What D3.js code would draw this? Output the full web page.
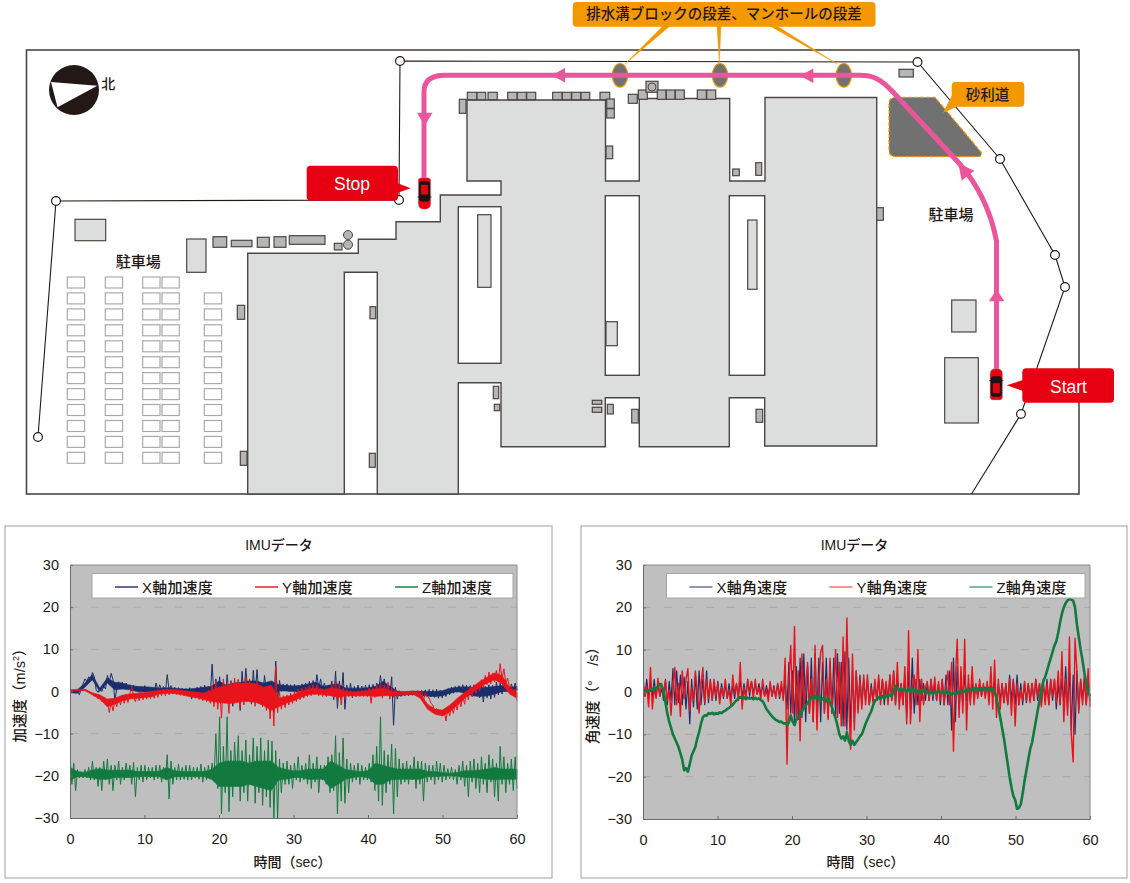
<!DOCTYPE html>
<html><head><meta charset="utf-8">
<script src="https://cdnjs.cloudflare.com/ajax/libs/d3/7.8.5/d3.min.js"></script>
<style>html,body{margin:0;padding:0;background:#fff}svg{display:block}</style>
</head><body><svg id="c" width="1130" height="883"></svg>
<script>
// ---- chart data: spike readings every quarter second, 0..60 s ----
const xTicks=[0,10,20,30,40,50,60];
const yTicks=[-30,-20,-10,0,10,20,30];
const accelX=[
0.2,-0.2,0.3,-0.4,0.4,-0.8,0.6,1.8,3.0,2.4,3.5,2.9,4.5,3.5,0.4,-0.2,0.6,0.0,1.2,0.6,
3.8,2.2,4.3,2.8,-2.0,0.5,2.3,0.8,2.2,0.7,2.0,0.6,1.6,0.2,1.5,0.1,1.3,-0.2,1.2,0.0,
1.4,0.0,1.1,-0.2,0.9,-0.1,2.0,0.2,1.6,0.0,1.2,-0.1,4.0,0.2,1.4,-0.1,1.0,-0.3,0.9,-0.2,
0.8,-0.5,0.7,-0.6,0.9,-1.8,0.6,-0.6,1.0,-0.7,1.2,-0.5,1.5,-0.4,1.3,-0.8,6.5,-1.5,3.0,-2.5,
3.5,-1.5,0.5,-2.5,4.0,-0.5,2.5,-3.5,1.2,-2.0,2.8,-4.5,4.8,-1.0,5.5,0.2,1.5,-3.0,5.0,-0.5,
5.2,-1.0,2.0,-1.8,3.8,0.0,1.0,-4.0,2.5,-5.0,7.2,-2.5,2.6,0.0,1.8,0.2,1.8,0.0,1.6,0.1,
1.7,-0.2,1.5,0.0,1.8,0.0,2.0,0.1,2.4,0.0,2.6,0.2,4.0,0.6,3.0,0.4,2.0,0.0,1.5,-0.5,
2.5,-2.0,4.8,-4.0,2.5,-1.5,4.5,-4.2,1.5,-0.8,2.0,-1.5,1.2,-0.5,1.5,-0.6,1.3,-0.4,1.5,-0.5,
1.6,-0.5,1.7,-0.2,2.0,0.0,3.8,0.4,3.0,0.6,1.5,-1.0,3.5,-8.0,1.0,-1.8,0.2,-1.2,0.0,-1.0,
-0.1,-1.0,0.1,-0.9,0.0,-1.0,-0.1,-0.8,0.3,-1.1,0.4,-1.2,0.5,-1.3,0.4,-1.4,0.5,-1.6,0.3,-1.5,
0.2,-1.2,0.6,-0.8,1.0,-0.4,1.2,-0.2,1.4,0.0,1.6,-0.1,1.5,-1.0,1.4,-1.2,1.6,-0.8,1.2,-1.5,
1.4,-2.5,1.2,-1.5,1.6,-1.8,1.5,-1.4,2.2,-0.8,2.0,-0.6,1.6,0.2,1.4,0.0,1.8,0.2,2.0,0.4];
const accelY=[
0.3,0.1,0.4,0.1,0.4,0.2,0.5,0.2,0.5,0.3,0.0,-0.3,-0.5,-1.2,-0.6,-1.8,-1.2,-2.4,-1.5,-3.0,
-1.8,-5.0,-2.5,-4.6,-1.8,-3.6,-1.5,-3.2,-1.0,-2.8,-0.6,-2.6,-0.5,1.2,-1.5,-2.4,-0.4,-2.2,-0.2,-2.0,
-0.3,-1.8,0.0,-1.7,-0.2,-1.6,0.1,-1.4,0.3,-1.0,0.4,-1.0,0.5,-0.8,0.6,-0.6,0.5,-0.7,0.4,-0.9,
0.3,-1.0,0.2,-1.1,0.0,-1.5,0.0,-1.6,-0.2,-1.9,-0.3,-2.2,-0.2,-2.4,0.3,-2.8,1.6,-3.6,2.5,-4.2,
1.2,-6.3,3.0,-1.5,0.5,-5.2,2.6,-2.0,3.2,-1.2,2.8,-3.8,1.0,-3.2,3.4,-1.0,3.0,-2.6,1.0,-3.5,
2.4,-1.0,1.5,-3.6,1.0,-4.5,0.2,-6.5,1.0,-8.2,6.0,-5.0,0.0,-4.2,-1.0,-3.8,-0.8,-3.2,-0.4,-2.8,
0.0,-2.4,0.6,-2.0,0.8,-1.6,1.0,-1.2,1.4,-1.0,1.6,-0.8,1.6,-1.0,0.8,-1.2,0.4,-1.2,0.6,-1.0,
1.6,-1.2,2.4,-2.0,1.8,-3.2,0.8,-1.8,0.4,-1.2,0.2,-1.2,0.1,-1.3,0.1,-1.2,0.3,-1.2,0.4,-1.2,
0.8,-2.8,0.9,-1.4,1.4,-1.0,2.0,-1.6,1.5,-0.8,2.2,-1.8,0.8,-1.4,0.4,-1.2,0.0,-0.9,-0.1,-0.9,
0.0,-0.8,0.1,-0.7,0.1,-0.6,0.3,-0.7,0.2,-2.2,-0.3,-1.2,-1.5,-2.8,-3.2,-4.6,-4.0,-5.4,-4.4,-5.8,
-4.2,-7.0,-4.2,-5.8,-3.4,-5.2,-2.8,-4.4,-1.8,-3.6,-1.2,-3.0,0.0,-2.0,1.0,-1.2,1.0,-0.4,2.0,0.2,
2.8,0.8,3.8,1.6,4.6,1.8,4.4,2.2,5.0,2.4,6.6,3.0,5.4,2.0,3.2,0.8,1.4,-0.6,0.6,-2.2];
const accelZ=[
-15.5,-22,-17,-23.5,-18.5,-20.5,-19,-20.5,-18.5,-20.5,-18,-21,-16.5,-21,-18,-22.5,-18,-23.5,-16.5,-21,
-16,-22,-17.5,-23.5,-17.5,-21,-16.5,-22,-18,-21,-17,-20.5,-17.5,-22,-16.8,-25,-18,-21,-17.5,-21.5,
-17.5,-21,-18,-20.5,-18,-21,-17.5,-20.7,-17.5,-21.5,-18,-20.8,-15,-25.5,-16.5,-22,-18,-21,-17.2,-21,
-18,-20.8,-17.5,-21,-17.5,-21,-18,-20.5,-18,-20.8,-17.2,-21.5,-18,-21,-17.5,-20.8,-17,-21,-10,-23,
-6,-29,-13,-24,-6,-28.5,-14,-25,-12,-21,-10.5,-26,-14,-24,-11.5,-26,-15,-22,-11,-26.5,
-13,-24,-11,-27,-14,-25,-11.5,-27.5,-11.8,-30,-14,-30,-16,-24,-17,-22,-16.5,-22,-17.5,-23,
-17,-21,-15.5,-21.5,-17.5,-21,-17,-22,-15,-23,-17,-21.5,-15.5,-24,-17.5,-21,-17.5,-22,-15.5,-24,
-15,-23.5,-10.5,-29,-14.5,-26,-11,-26.5,-16,-24,-17,-21.5,-17.5,-21,-17,-22,-17.5,-21,-18,-21,
-17,-21.5,-15,-23.5,-13,-26,-6,-27,-14,-24,-15,-22,-12.5,-29,-13.5,-25,-16,-22,-17,-21.5,
-16.5,-22,-17.5,-21,-15.5,-23,-16.5,-22,-16.5,-26,-17,-21.5,-17.5,-21,-17.5,-22,-16.5,-21,-17,-21.5,
-17.5,-21,-18.3,-20.7,-18,-21,-18.5,-22,-17.5,-21,-16.5,-22.5,-17.5,-25,-16.5,-21.5,-16,-23,-17,-24,
-15.5,-22,-17,-24,-15,-21.5,-16,-25,-17,-26,-13,-22,-15.5,-24,-17,-22,-16,-23.5,-15.5,-23];
const gyroX=[
2,-1,3,-1.5,2.5,-1,3,-1,2,-1,1,-2,3,-3,2.5,-2,5.5,-3,5,-2.5,
4,-3,3.5,-4,2.5,-7.5,3,-3.5,4,-4,5,-3,3,-3,5,-2.5,3,-2,2,-2,
2.5,-2,2,-1.5,2,-1.5,2,-1.5,1.5,-1.5,2,-1,2.5,-1,2,-1,3,-1,2.5,-0.5,
2,-0.5,2,-0.5,1.5,-1,1.5,-1,2,-1,1.5,-1,2,-1.5,1.5,-1.5,3,-4,7,-5,
5,-7,6,-6.5,8,-6,9,-7,6,-5,8,-7,9,-6,8,-7,7,-5,8,-6,
7,-5,8,-6,9,-5,7,-8,9.5,-9,8,-8,5,-7,5,-4,4,-3,3,-2,
3,-3,2,-2,2,-2,3,-2,3,-3,2,-2,4,-2,5,-3,3,-2,2,-3,
4,-6,5,-4,8,-5,3,-3,3,-2,2,-2,2,-2,3,-2,2,-2,2,-3,
3,-3,4,-3,5,-9,8,-7,6,-4,3,-3,4,-2,2,-2,2,-1,1.5,-1,
2,-1,1.5,-1,2,-1,1.5,-1,2.5,-3,2,-2,2,-2.5,2,-3,4,-2,3,-3,
4,-3,2,-3,2,-2.5,2,-2,2,-2,3,-2,2,-3,2,-2,3,-3,3,-2,
3,-4,2,-3,3,-3,6,-4,5,-9,4,-10,5,-4,3,-2,4,-3,3,-2];
const gyroY=[
3,-1,1.5,-3.5,5.8,-4,1,-1.5,3.2,-1,2,-0.5,2.6,-2,0.5,-5.5,1.5,5.8,-3,2,
-5.8,5,-1.5,3,5.5,-4.5,1,-2,5,0,-5,1.5,5.8,-2.5,3,-1.5,2.5,-2,3,-1,
2,-2.8,1,-1,3,-1.5,0.5,-3.2,4,-0.5,2,-2,7,-4,1,-1.5,3,0,2.5,-1.5,
3,-0.5,1,-1.8,3,-1,0.5,-2.2,2.5,-1,1,-1.5,2,-1,2.5,-2,8,-17,3,11,
-5,15.5,-6,5,-11.5,9,-4,2,7,-5,3,-7,11,-9,2,9.5,11,-5,3,-6.5,
8,-5,1,10,-6,7,-8,13,-8,17.5,-2,-13.5,9,-9,5,-5,3,-4,4,-3,
4,-3,1,-2.5,3,-2,4,-3,3,-1,2.5,-3,4,-2,5,-3,7,-4,2,-3,
6,-7.5,14.5,-7.5,1,4,-3,10,-7,3,-3,1,2.5,-2,3,-1,3.5,-2,2.5,-2,
3,-3,1,5,-3,7,-14,3,12.5,-6,6,-5,12.5,-9,4,-3,6,-3,2,-1.5,
3,-1,2,-1.5,2.5,-3,6,-4,7.5,-6,3,-4,2,-2.5,2,-3,3,-5.5,3,-8,
2,-3,0.5,-2,2.5,-2,2,-2.5,2,-2,3,-1,2,-3.5,3,-3,2,-3,3,-1,
3,-2.5,5,-3,9.5,-7,3,-5.5,13,-10,-16.5,12.7,5,-5,3,-3,3,-3,5.5,-3.5];
const gyroZ=[
0.1,0.3,0.1,0.4,0.3,0.7,0.5,0.9,1.2,1.9,1.4,0.4,-2.5,-5,-7,-8.5,-10,-11,-12,-13,
-14.5,-16,-18.5,-18,-18.8,-17,-15,-14,-13,-11,-9.5,-7.5,-6,-5.5,-5.6,-5,-5.2,-4.9,-5.3,-5,
-5.2,-4.8,-5,-4.6,-4.4,-4,-3.8,-3.4,-3,-2.4,-2,-1.5,-1.2,-1.6,-1.2,-1.7,-1.3,-1.6,-1.4,-1.7,
-1.4,-1.7,-1.5,-1.9,-2.2,-3,-4,-4.6,-5.2,-5.8,-6.2,-6.6,-6.8,-7.1,-7,-7.4,-7.4,-7.8,-7.2,-5.5,
-7,-7.8,-6.5,-6,-5.4,-4.6,-3.8,-3.2,-2.6,-2,-1.2,-1.6,-0.9,-1.6,-1,-2.2,-1.6,-1.2,-2.2,-1.5,
-2.6,-3.5,-5,-6.2,-8,-10,-11,-10.5,-11.5,-9.5,-11.5,-12.5,-11.5,-12.5,-11.8,-11.2,-10.5,-10,-8.8,-7.5,
-6.5,-5.5,-4.6,-3.2,-2,-1.8,-1.2,-1.6,-1,-1.5,-0.8,-1.2,-0.6,-1,0.2,1.4,1,0.4,0.8,0.2,
0.6,0,0.8,0.2,0.7,0.1,0.6,-0.2,0.4,-0.2,0.6,0,0.2,-0.4,0.2,-0.4,0.1,-0.3,0.2,-0.2,
0.1,-0.3,0.2,-0.4,0,-0.6,-0.2,-0.7,-0.3,0.1,-0.2,0.3,0.1,0.6,0.2,0.7,0.5,0.9,0.4,0.8,
0.4,0.9,0.5,1,0.5,0.9,0.6,0.8,0,-1.5,-3.5,-6,-8.5,-11,-14,-17,-20,-22.5,-24.5,-25.5,
-27.6,-27.4,-26.5,-24,-21,-18.5,-16,-13.5,-12,-9.5,-7,-4.5,-2,0.5,2.5,3.5,5,6.5,8,9.5,
11,12,14,16.5,18.5,20,21,21.6,22,21.8,21.6,20,16,13,10,7.5,4.5,2,0.3,-1];
// ---- dense core of each noisy trace, upper and lower edge read once per second ----
const accelXHi=[0.3,0.4,2.0,4.0,0.8,3.2,2.2,2.0,1.5,1.2,1.1,1.0,0.8,0.9,0.8,0.6,0.6,0.8,1.0,1.2,2.5,1.5,2.0,2.2,2.5,2.5,2.0,2.5,1.6,1.4,1.3,1.4,1.8,2.2,1.2,1.6,1.8,0.8,0.8,0.8,0.9,1.2,2.4,1.2,0.0,-0.1,0.1,0.0,0.0,0.0,0.2,0.8,1.0,1.1,1.0,1.0,1.0,1.2,1.4,1.0,1.2];
const accelXLo=[-0.3,-0.4,1.0,2.8,0.0,2.0,0.4,0.6,0.4,0.0,-0.1,0.0,-0.1,0.0,-0.3,-0.4,-0.5,-0.6,-0.4,-0.8,-1.5,-1.8,-1.0,-1.2,-1.0,-1.0,-1.5,-1.0,0.2,0.1,0.0,0.1,0.2,0.4,0.0,-0.5,-0.8,-0.4,-0.3,-0.3,-0.3,0.0,0.5,-1.0,-1.0,-0.8,-0.7,-0.8,-1.1,-1.2,-1.0,-0.4,0.0,-0.4,-1.0,-1.2,-1.0,-0.6,0.0,0.0,0.2];
const accelYHi=[0.4,0.5,0.5,-0.3,-0.8,-1.8,-1.6,-0.9,-0.6,-0.4,-0.3,0.0,0.3,0.5,0.5,0.2,0.0,-0.2,-0.4,0.3,1.0,1.5,1.8,2.0,2.0,1.8,1.0,1.5,-1.6,-1.2,-0.8,0.0,0.6,0.8,0.4,0.8,0.6,0.1,-0.1,0.0,0.2,0.6,0.8,0.2,-0.1,0.0,0.1,-0.5,-3.0,-4.2,-4.4,-3.2,-1.6,-0.2,1.0,2.4,3.4,4.4,3.8,0.8,-0.2];
const accelYLo=[0.1,0.2,0.2,-0.8,-1.8,-3.6,-3.0,-2.2,-1.8,-1.6,-1.4,-1.2,-0.6,-0.4,-0.5,-0.8,-1.2,-1.5,-1.9,-2.4,-2.6,-2.8,-2.8,-2.4,-2.4,-2.6,-3.4,-4.5,-3.6,-2.8,-2.2,-1.4,-0.8,-0.6,-0.8,-1.0,-1.4,-1.0,-1.0,-1.0,-1.0,-1.2,-1.0,-1.0,-0.8,-0.7,-0.6,-1.6,-4.2,-5.4,-5.8,-4.8,-3.2,-1.6,-0.2,1.0,2.0,2.8,1.8,-0.6,-1.6];
const accelZHi=[-18,-19,-19.2,-18.6,-18.3,-18.6,-18.7,-18.7,-18.6,-19,-19,-19,-18.9,-18,-18.8,-19,-19,-19,-19,-18.5,-17,-16.5,-16.5,-16.5,-17,-16.5,-16.5,-16.5,-18,-18.5,-18.8,-18.8,-18.4,-18.4,-18.4,-16.5,-17.5,-18.5,-18.8,-19,-18.8,-17,-17.5,-18,-18.4,-18.4,-18.4,-18.4,-19,-19,-19.2,-19.4,-19.2,-18.8,-18.8,-18.6,-18.4,-18,-18.4,-18.4,-18.4];
const accelZLo=[-21,-20.2,-20.2,-20.5,-20.8,-20.8,-20.4,-20.4,-20.4,-20.2,-20.2,-20.2,-20.2,-21,-20.2,-20.2,-20.2,-20.2,-20.2,-20.8,-22.5,-22.5,-22.5,-22.5,-22,-22.5,-23,-23.5,-21,-20.8,-20.4,-20.4,-20.8,-20.8,-20.8,-23,-22,-20.8,-20.4,-20.2,-20.4,-22,-22,-21,-20.8,-20.8,-20.8,-20.8,-20.2,-20.2,-20.1,-20,-20.1,-20.4,-20.4,-20.6,-20.8,-21,-20.8,-20.8,-20.8];
const accelLegend=["X軸加速度","Y軸加速度","Z軸加速度"];
const gyroLegend=["X軸角速度","Y軸角速度","Z軸角速度"];

// ---- site plan geometry ----
const buildingOutline=[[467,100],[605.5,100],[605.5,181],[639.3,181],[639.3,98.5],[729.7,98.5],[729.7,181],[765,181],[765,97.5],[876.7,97.5],[876.7,446],[764.7,446],[764.7,397.7],[729.3,397.7],[729.3,446.7],[639.3,446.7],[639.3,397.7],[605.3,397.7],[605.3,446.7],[501,446.7],[501,382.7],[458.3,382.7],[458.3,494],[377.3,494],[377.3,272.3],[344.3,272.3],[344.3,494],[247.7,494],[247.7,253.3],[358.3,253.3],[358.3,239.3],[396,239.3],[396,221.7],[440.3,221.7],[440.3,195],[501,195],[501,181],[467,181]];
const courtyards=[[458.3,206.7,501,363.3],[605.3,195.7,639.3,375.3],[729.3,195.7,764.7,375.3]];
const lightBoxes=[[75,219.3,105.7,240.7],[186.7,239,206,272.3],[951.7,300,976,332],[944.7,357.7,978.3,423],[477.7,214.7,491,287.3],[747.7,220,757,289.3],[606,321.7,617.3,345.7]];
const darkBoxes=[[467.3,92.3,476.7,99.7],[477,92.3,485.7,99.7],[488,92.3,497.3,99.7],[507.7,92.3,517,99.7],[517.3,92.3,526.3,99.7],[526.7,92.3,535.7,99.7],[552.7,92.3,562,99.7],[562.3,92.3,571.3,99.7],[571.7,92.3,580.7,99.7],[581,92.3,589.7,99.7],[600,92.3,609.7,99.7],[459.3,99.3,466,113.3],[606.7,99,614.3,108.3],[606.7,108.7,614.3,118],[606,146,612.7,158.7],[628.3,94.3,637.3,103.3],[638.3,90,647.3,99.3],[646,81.3,658,92.3],[657.3,90,666,99.3],[666.3,90,675,99.3],[675.3,90,684.3,99.3],[697.3,90,706.3,99.3],[706.7,90,715.7,99.3],[732.7,169,739.3,175.7],[755.7,162.7,761.7,175.3],[899,69.3,913.3,77],[876.7,207.7,883.3,220.3],[213,236.7,226.7,247.3],[231.3,240.3,252,246.7],[257.3,237.3,269.3,247.3],[274,236.7,286,247.3],[289.3,235.7,325,244.3],[334.3,243.3,342,250],[237.3,305.3,244.7,319.3],[240.3,451.3,247,465.3],[370,306.7,375.7,318.7],[369.3,453.3,375.3,467.3],[493.3,386.3,498.7,398.7],[494.3,404.3,499.7,410.7],[592.3,400.3,601.7,404.3],[592.3,407.3,601.7,412.3],[607.3,404.3,613.3,414],[631.7,409.3,638.3,423],[756,409.3,762.7,422.3]];
const roundFixtures=[[652,87,4],[348,235,4.5],[348,244.7,4.5]];
const parkingCols=[67.3,105.3,142.7,162,204.3];
const parkingRows=[277,292.9,308.9,324.8,340.8,356.7,372.6,388.6,404.5,420.5,436.4,452.3];
const fenceA=[[971.5,494],[1021,414],[1065,287],[1055,255],[1000,159],[917.5,62],[400,61],[399,200],[56,201],[38,437]];
const fencePosts=[[400,61],[917.5,62],[1000,159],[1055,255],[1065,287],[1021,414],[399,200],[56,201],[38,437]];
const drainOvals=[620,720,843.8];
const drainLeaders=[[663,670,625,64],[717,721,719.3,63.3],[770,777,837.3,64]];
const gravel="M896,97.3L935,97.3L981,152Q983,156.7 977,156.7L896,156.7Q889,156.7 889,150L889,104Q889,97.3 896,97.3Z";
const arrows=[[551.7,75.3,565,68,565,82.6],[800,75.7,813.3,68.5,813.3,83],[424.7,126,417,112.7,432.5,112.7],[958.3,163.3,961.7,180.7,974.3,170.7],[996.7,289.3,989,301.3,1004.3,301.3]];

const svg=d3.select("#c");
const LAT="'Liberation Sans','Noto Sans CJK JP',sans-serif";
const INK="#231815", EDGE="#4c4644";
const boxAttrs=(s,b)=>s.attr("x",d=>d[0]).attr("y",d=>d[1]).attr("width",d=>d[2]-d[0]).attr("height",d=>d[3]-d[1]);

function drawPlan(){
  const g=svg.append("g");
  g.append("rect").attr("x",26.5).attr("y",50).attr("width",1052.5).attr("height",444).attr("fill","#fff").attr("stroke",EDGE).attr("stroke-width",1.6);
  const line=d3.line();
  g.append("path").attr("d",line(buildingOutline)+"Z").attr("fill","#dcdddd").attr("stroke",EDGE).attr("stroke-width",1.4);
  g.selectAll(".yard").data(courtyards).join("rect").call(boxAttrs).attr("fill","#fff").attr("stroke",EDGE).attr("stroke-width",1.4);
  g.selectAll(".lb").data(lightBoxes).join("rect").call(boxAttrs).attr("fill","#dcdddd").attr("stroke",EDGE).attr("stroke-width",1.2);
  g.selectAll(".db").data(darkBoxes).join("rect").call(boxAttrs).attr("fill","#b5b6b6").attr("stroke",EDGE).attr("stroke-width",1.2);
  g.selectAll(".rf").data(roundFixtures).join("circle").attr("cx",d=>d[0]).attr("cy",d=>d[1]).attr("r",d=>d[2]).attr("fill","#b5b6b6").attr("stroke",EDGE).attr("stroke-width",1);
  const bays=parkingCols.flatMap((x,c)=>parkingRows.filter((_,r)=>!(c===4&&r===0)).map(y=>[x,y,x+17.3,y+11]));
  g.selectAll(".bay").data(bays).join("rect").call(boxAttrs).attr("fill","#fff").attr("stroke","#a9aaaa").attr("stroke-width",1.2);
  g.append("path").attr("d",line(fenceA)).attr("fill","none").attr("stroke",INK).attr("stroke-width",1.1);
  g.selectAll(".post").data(fencePosts).join("circle").attr("cx",d=>d[0]).attr("cy",d=>d[1]).attr("r",4.4).attr("fill","#fff").attr("stroke",INK).attr("stroke-width",1.2);
  g.append("path").attr("d",gravel).attr("fill","#727171").attr("stroke","#f39800").attr("stroke-width",1.2).attr("stroke-dasharray","4 2");
  g.selectAll(".oval").data(drainOvals).join("ellipse").attr("cx",d=>d).attr("cy",75.3).attr("rx",7.7).attr("ry",11.8).attr("fill","#727171").attr("stroke","#f39800").attr("stroke-width",1.2);
  g.selectAll(".lead").data(drainLeaders).join("path").attr("d",d=>`M${d[0]},26L${d[1]},26L${d[2]},${d[3]}Z`).attr("fill","#f39800").attr("stroke","#f39800").attr("stroke-width",.4);
  const p=d3.path();
  p.moveTo(996.5,372);p.lineTo(996.5,241);p.bezierCurveTo(990,207,975,181,958,162);
  p.lineTo(893,92);p.bezierCurveTo(880,78,872,75.3,860,75.3);p.lineTo(445,75.3);
  p.quadraticCurveTo(424,75.3,424,92);p.lineTo(424,180);
  g.append("path").attr("d",p.toString()).attr("fill","none").attr("stroke","#ea559c").attr("stroke-width",5);
  g.selectAll(".arw").data(arrows).join("path").attr("d",d=>`M${d[0]},${d[1]}L${d[2]},${d[3]}L${d[4]},${d[5]}Z`).attr("fill","#ea559c");
  const call=(x0,y0,x1,y1,fill,wedge)=>{
    g.append("rect").attr("x",x0).attr("y",y0).attr("width",x1-x0).attr("height",y1-y0).attr("rx",4).attr("fill",fill);
    if(wedge) g.append("path").attr("d","M"+wedge.map(q=>q.join(",")).join("L")+"Z").attr("fill",fill);
  };
  call(572.7,2,875.5,26.7,"#f39800");
  call(951.7,82,1024.3,106.7,"#f39800",[[951.7,96],[943,112.7],[957,106.7]]);
  call(306.7,165.7,398,200.7,"#e60012",[[397,183],[410.7,188.3],[397,193]]);
  call(1022.3,368.3,1114,402.7,"#e60012",[[1023,380],[1006.7,385.3],[1023,391]]);
  const label=(t,x,y,size,fill,weight)=>g.append("text").attr("x",x).attr("y",y).attr("text-anchor","middle").attr("dominant-baseline","central").attr("font-family",LAT).attr("font-size",size).attr("font-weight",weight||400).attr("fill",fill).text(t);
  label("排水溝ブロックの段差、マンホールの段差",724,14,14.5,INK,500);
  label("砂利道",987.5,94.5,14.5,INK,500);
  label("Stop",352,184,17.5,"#fff");
  label("Start",1068.5,386.5,17.5,"#fff");
  label("駐車場",138.3,261,15,INK,500);
  label("駐車場",951,214.5,15,INK,500);
  label("北",108.3,83.5,14,INK,500);
  g.append("circle").attr("cx",74).attr("cy",90).attr("r",25).attr("fill",INK);
  g.append("path").attr("d","M51,82L97.3,85.7L57.5,107.3Z").attr("fill","#fff");
  const car=(cx,cy,dir)=>{
    const c=g.append("g").attr("transform",`translate(${cx},${cy}) scale(1,${dir})`);
    c.append("path").attr("d","M-6.3,-10Q-6.3,-15.8 0,-15.8Q6.3,-15.8 6.3,-10L6.3,13Q6.3,15.8 3,15.8L-3,15.8Q-6.3,15.8 -6.3,13Z").attr("fill","#e60012").attr("stroke","#b5b6b6").attr("stroke-width",.5);
    c.append("rect").attr("x",-5.5).attr("y",-8).attr("width",11).attr("height",20.5).attr("rx",3).attr("fill","#1a1311");
    c.append("rect").attr("x",-3.5).attr("y",-1).attr("width",7).attr("height",9.7).attr("fill","#e60012");
    c.append("path").attr("d","M-7,-3.5L7,-3.5").attr("stroke","#1a1311").attr("stroke-width",.9);
  };
  car(996.3,384.2,1);
  car(424.5,193.5,-1);
}

function drawChart(o){
  const g=svg.append("g");
  g.append("rect").attr("x",o.fx).attr("y",526).attr("width",o.fw).attr("height",352).attr("fill","#fff").attr("stroke","#9fa0a0").attr("stroke-width",1);
  const x=d3.scaleLinear().domain([0,60]).range([o.l,o.r]);
  const y=d3.scaleLinear().domain([-30,30]).range([o.b,565]);
  g.append("rect").attr("x",o.l).attr("y",565).attr("width",o.r-o.l).attr("height",o.b-565).attr("fill","#bfbfbf");
  g.append("g").selectAll("line").data(yTicks.filter(v=>Math.abs(v)<30&&v!==0)).join("line")
    .attr("x1",o.l).attr("x2",o.r).attr("y1",d=>y(d)).attr("y2",d=>y(d)).attr("stroke","#a9a9a9").attr("stroke-dasharray","8 13");
  const clipId="clip"+o.l;
  g.append("clipPath").attr("id",clipId).append("rect").attr("x",o.l).attr("y",565).attr("width",o.r-o.l+1).attr("height",o.b-565);
  const ln=d3.line().x((d,i,a)=>x(i*60/(a.length-1))).y(d=>y(d));
  o.series.forEach(s=>{
    const clip=g.append("g").attr("clip-path",`url(#${clipId})`);
    if(s.hi){
      const ar=d3.area().x((d,i)=>x(i)).y0((d,i)=>y(s.lo[i])).y1(d=>y(d));
      clip.append("path").datum(s.hi).attr("d",ar).attr("fill",s.c).attr("stroke",s.c).attr("stroke-width",.6);
    }
    clip.append("path").datum(s.v).attr("d",ln).attr("fill","none").attr("stroke",s.c).attr("stroke-width",s.w).attr("stroke-linejoin","round");
  });
  const ax=d3.axisBottom(x).tickValues(xTicks).tickSizeInner(-3).tickSizeOuter(0).tickPadding(16).tickFormat(d3.format("d"));
  const ay=d3.axisLeft(y).tickValues(yTicks).tickSizeInner(-3).tickSizeOuter(0).tickPadding(11).tickFormat(d=>d<0?"−"+(-d):d);
  const xa=g.append("g").attr("transform",`translate(0,${o.b})`).call(ax);
  const ya=g.append("g").attr("transform",`translate(${o.l},0)`).call(ay);
  [xa,ya].forEach(a=>{a.selectAll("text").attr("font-family",LAT).attr("font-size",14.5).attr("fill",INK);a.selectAll("line,path").attr("stroke","#6a6a6a");});
  g.append("line").attr("x1",o.l).attr("x2",o.r).attr("y1",565).attr("y2",565).attr("stroke","#8a8a8a");
  g.append("line").attr("x1",o.r).attr("x2",o.r).attr("y1",565).attr("y2",o.b).attr("stroke","#8a8a8a");
  g.append("rect").attr("x",o.lx).attr("y",573.5).attr("width",o.lw).attr("height",24.5).attr("fill","#fff").attr("stroke","#a6a6a6");
  o.legend.forEach((t,i)=>{
    const lx=o.lx+23+i*140;
    g.append("line").attr("x1",lx).attr("x2",lx+23).attr("y1",587).attr("y2",587).attr("stroke",o.series[i].k).attr("stroke-width",1.4);
    g.append("text").attr("x",lx+27).attr("y",587).attr("dominant-baseline","central").attr("font-family",LAT).attr("font-size",15).attr("font-weight",500).attr("letter-spacing",.2).attr("fill",INK).text(t);
  });
  const cx=(o.fx+o.fw/2);
  g.append("text").attr("x",cx+.5).attr("y",545).attr("text-anchor","middle").attr("dominant-baseline","central").attr("font-family",LAT).attr("font-size",14).attr("font-weight",500).attr("fill",INK).text("IMUデータ");
  g.append("text").attr("x",(o.l+o.r)/2-1).attr("y",862).attr("text-anchor","middle").attr("dominant-baseline","central").attr("font-family",LAT).attr("font-size",14).attr("font-weight",500).attr("fill",INK).text("時間（sec）");
  const yl=g.append("text").attr("transform",`translate(${o.l-50},692) rotate(-90)`).attr("text-anchor","middle").attr("dominant-baseline","central").attr("font-family",LAT).attr("font-size",14.5).attr("font-weight",500).attr("fill",INK);
  o.ylabel(yl);
}

drawPlan();
drawChart({fx:5,fw:547,l:70,r:517,b:818,lx:92,lw:421,legend:accelLegend,
  series:[{v:accelX,hi:accelXHi,lo:accelXLo,c:"#1b2d6b",k:"#1b2d6b",w:1},{v:accelY,hi:accelYHi,lo:accelYLo,c:"#e8141c",k:"#e8141c",w:1},{v:accelZ,hi:accelZHi,lo:accelZLo,c:"#127a3e",k:"#127a3e",w:1}],
  ylabel:t=>{t.append("tspan").text("加速度（m/s");t.append("tspan").attr("dy",-4).attr("font-size",9).text("2");t.append("tspan").attr("dy",4).text("）");}});
drawChart({fx:581,fw:546,l:643,r:1090,b:819,lx:666.5,lw:418.5,legend:gyroLegend,
  series:[{v:gyroX,c:"#1b2d6b",k:"#5a6a98",w:1.2},{v:gyroY,c:"#e8141c",k:"#f0646a",w:1.4},{v:gyroZ,c:"#127a3e",k:"#4f9e72",w:2.6}],
  ylabel:t=>{t.text("角速度（°　/s）");}});
</script></body></html>
